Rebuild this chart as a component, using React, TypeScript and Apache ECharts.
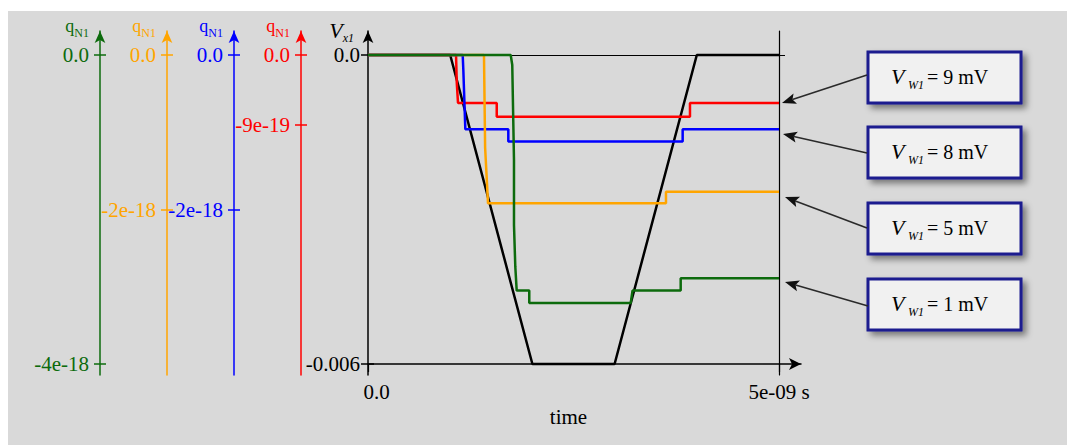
import { useEffect, useRef } from 'react';
import * as echarts from 'echarts';

const FONT = "'Liberation Serif', 'DejaVu Serif', 'Times New Roman', serif";

// ---- tick values / labels ----
const timeTicks = [0, 5e-9];
const timeTickLabels = ['0.0', '5e-09 s'];
const vTicks = [0, -0.006];
const vTickLabels = ['0.0', '-0.006'];
const redTicks = [0, -9e-19];
const redTickLabels = ['0.0', '-9e-19'];
const blueTicks = [0, -2e-18];
const blueTickLabels = ['0.0', '-2e-18'];
const orangeTicks = [0, -2e-18];
const orangeTickLabels = ['0.0', '-2e-18'];
const greenTicks = [0, -4e-18];
const greenTickLabels = ['0.0', '-4e-18'];

// ---- series data ----
const vx1Time = [0, 1.0e-9, 2.0e-9, 3.0e-9, 4.0e-9, 5.0e-9];
const vx1Values = [0, 0, -0.006, -0.006, 0, 0];

const q9Time = [0, 1.071e-9, 1.08e-9, 1.095e-9, 1.566e-9, 1.566e-9, 3.917e-9, 3.917e-9, 5.0e-9];
const q9Values = [0, 0, -3.6e-19, -6.2e-19, -6.2e-19, -8.0e-19, -8.0e-19, -6.2e-19, -6.2e-19];

const q8Time = [0, 1.152e-9, 1.16e-9, 1.184e-9, 1.707e-9, 1.707e-9, 3.828e-9, 3.828e-9, 5.0e-9];
const q8Values = [0, 0, -2.0e-19, -9.62e-19, -9.62e-19, -1.12e-18, -1.12e-18, -9.62e-19, -9.62e-19];

const q5Time = [0, 1.411e-9, 1.425e-9, 1.46e-9, 3.625e-9, 3.625e-9, 5.0e-9];
const q5Values = [0, 0, -1.2e-18, -1.92e-18, -1.92e-18, -1.77e-18, -1.77e-18];

const q1Time = [0, 1.736e-9, 1.755e-9, 1.776e-9, 1.776e-9, 1.792e-9, 1.809e-9, 1.962e-9, 1.962e-9, 3.196e-9, 3.218e-9, 3.804e-9, 3.804e-9, 5.0e-9];
const q1Values = [0, 0, -1.3e-19, -1.36e-18, -2.2e-18, -2.74e-18, -3.05e-18, -3.05e-18, -3.21e-18, -3.21e-18, -3.05e-18, -3.05e-18, -2.89e-18, -2.89e-18];

const legendValues = ['9 mV', '8 mV', '5 mV', '1 mV'];

const GREEN = '#0d6b0d';
const ORANGE = '#ffa500';
const BLUE = '#0000ff';
const RED = '#ff0000';

const zip = (t: number[], v: number[]) => t.map((x, i) => [x, v[i]]);
const pick = (ticks: number[], labels: string[]) => (val: number) => {
  let best = 0;
  let bd = Infinity;
  ticks.forEach((t, i) => {
    const d = Math.abs(t - val);
    if (d < bd) { bd = d; best = i; }
  });
  return labels[best];
};

// axis extents (axis lines extend beyond data range)
const V_MIN = -0.006 - (11 * 0.006) / 309;
const V_MAX = (24 * 0.006) / 309;
const Q_MIN = -4e-18 - (11 * 4e-18) / 309;
const Q_MAX = (24 * 4e-18) / 309;
const T_MAX = (5e-9 * 433) / 411;

function qAxis(color: string, offset: number, ticks: number[], labels: string[]) {
  return {
    type: 'value',
    position: 'left',
    offset,
    min: Q_MIN,
    max: Q_MAX,
    name: '{q|q}{s|N1}',
    nameLocation: 'end',
    nameGap: -8,
    nameTextStyle: {
      align: 'right',
      padding: [0, 11, 0, 0],
      rich: {
        q: { fontFamily: FONT, fontSize: 18, color },
        s: { fontFamily: FONT, fontSize: 12, color, padding: [14, 0, 0, 0] },
      },
    },
    axisLine: { show: true, onZero: false, lineStyle: { color, width: 1.5 }, symbol: ['none', 'arrow'], symbolSize: [8, 12] },
    axisTick: { show: true, customValues: ticks, length: 6, lineStyle: { color, width: 1.5 } },
    axisLabel: {
      show: true,
      customValues: ticks,
      formatter: pick(ticks, labels),
      color,
      fontFamily: FONT,
      fontSize: 21,
      margin: 11,
    },
    splitLine: { show: false },
  };
}

function innerTickAxis(color: string, offset: number, ticks: number[], min: number, max: number) {
  return {
    type: 'value',
    position: 'left',
    offset,
    min,
    max,
    axisLine: { show: false, onZero: false },
    axisTick: { show: true, inside: true, customValues: ticks, length: 6, lineStyle: { color, width: 1.5 } },
    axisLabel: { show: false },
    splitLine: { show: false },
  };
}

function arrow(x1: number, y1: number, x2: number, y2: number) {
  const dx = x2 - x1;
  const dy = y2 - y1;
  const L = Math.hypot(dx, dy);
  const ux = dx / L;
  const uy = dy / L;
  const hl = 14;
  const hw = 5.5;
  const bx = x2 - ux * hl;
  const by = y2 - uy * hl;
  const nx = -uy;
  const ny = ux;
  return [
    { type: 'line', shape: { x1, y1, x2: bx + ux * 3, y2: by + uy * 3 }, style: { stroke: '#2a2a2a', lineWidth: 1.6 } },
    {
      type: 'polygon',
      shape: { points: [[x2, y2], [bx + nx * hw, by + ny * hw], [bx + ux * 3, by + uy * 3], [bx - nx * hw, by - ny * hw]] },
      style: { fill: '#111' },
    },
  ];
}

function legendBox(top: number, label: string) {
  const left = 868;
  return {
    type: 'group',
    children: [
      {
        type: 'rect',
        shape: { x: left, y: top, width: 153, height: 51 },
        style: {
          fill: '#f1f1f1',
          stroke: '#1d1d8f',
          lineWidth: 3,
          shadowBlur: 6,
          shadowOffsetX: 4,
          shadowOffsetY: 4,
          shadowColor: 'rgba(0,0,0,0.45)',
        },
      },
      {
        type: 'text',
        x: left + 23,
        y: top + 24,
        style: { text: 'V', font: `italic 22px ${FONT}`, fill: '#000', verticalAlign: 'middle', align: 'left' },
      },
      {
        type: 'text',
        x: left + 40,
        y: top + 33,
        style: { text: 'W1', font: `italic 12px ${FONT}`, fill: '#000', verticalAlign: 'middle', align: 'left' },
      },
      {
        type: 'text',
        x: left + 59,
        y: top + 25,
        style: { text: `= ${label}`, font: `20px ${FONT}`, fill: '#000', verticalAlign: 'middle', align: 'left' },
      },
    ],
  };
}

export default function App() {
  const ref = useRef<HTMLDivElement>(null);

  useEffect(() => {
    if (!ref.current) return;
    const chart = echarts.init(ref.current, null, { renderer: 'svg' });

    const series: any[] = [
      {
        name: 'Vx1',
        type: 'line',
        yAxisIndex: 0,
        data: zip(vx1Time, vx1Values),
        showSymbol: false,
        lineStyle: { color: '#000', width: 2.5 },
        z: 3,
        markLine: {
          silent: true,
          symbol: ['none', 'none'],
          label: { show: false },
          lineStyle: { color: '#000', width: 1.2, type: 'solid' },
          data: [[{ coord: [0, 0] }, { coord: [5.073e-9, 0] }]],
        },
      },
      { name: 'q9', type: 'line', yAxisIndex: 1, data: zip(q9Time, q9Values), showSymbol: false, lineStyle: { color: RED, width: 2.5 }, z: 4 },
      { name: 'q8', type: 'line', yAxisIndex: 2, data: zip(q8Time, q8Values), showSymbol: false, lineStyle: { color: BLUE, width: 2.5 }, z: 4 },
      { name: 'q5', type: 'line', yAxisIndex: 3, data: zip(q5Time, q5Values), showSymbol: false, lineStyle: { color: ORANGE, width: 2.5 }, z: 4 },
      { name: 'q1', type: 'line', yAxisIndex: 4, data: zip(q1Time, q1Values), showSymbol: false, lineStyle: { color: GREEN, width: 2.5 }, z: 5 },
    ];

    const graphics: any[] = [];
    const tops = [52, 127, 203, 279];
    legendValues.forEach((lab, i) => graphics.push(legendBox(tops[i], lab)));
    graphics.push(...arrow(867, 75, 782, 103));
    graphics.push(...arrow(867, 153, 783, 134));
    graphics.push(...arrow(867, 228, 785, 197));
    graphics.push(...arrow(868, 306, 785, 282));

    chart.setOption({
      animation: false,
      backgroundColor: 'transparent',
      grid: { left: 368, top: 31, width: 433, bottom: 70, containLabel: false },
      xAxis: {
        type: 'value',
        min: 0,
        max: T_MAX,
        position: 'bottom',
        offset: -11,
        name: 'time',
        nameLocation: 'middle',
        nameGap: 40,
        nameTextStyle: { fontFamily: FONT, fontSize: 21, color: '#000', padding: [0, 32, 0, 0] },
        axisLine: { show: true, onZero: false, lineStyle: { color: '#000', width: 1.5 }, symbol: ['none', 'arrow'], symbolSize: [9, 12] },
        axisTick: { show: true, customValues: timeTicks, length: 8, lineStyle: { color: '#000', width: 1.2 } },
        axisLabel: {
          show: true,
          customValues: timeTicks,
          formatter: (v: number) => (v === 0 ? `{a|${timeTickLabels[0]}}` : `{b|${pick(timeTicks, timeTickLabels)(v)}}`),
          margin: 17,
          rich: {
            a: { fontFamily: FONT, fontSize: 21, color: '#000', padding: [0, 0, 0, 17] },
            b: { fontFamily: FONT, fontSize: 21, color: '#000' },
          },
        },
        splitLine: { show: false },
      },
      yAxis: [
        {
          type: 'value',
          position: 'left',
          offset: 0,
          min: V_MIN,
          max: V_MAX,
          name: '{v|V}{s|x1}',
          nameLocation: 'end',
          nameGap: -13,
          nameTextStyle: {
            align: 'right',
            padding: [0, 14, 0, 0],
            rich: {
              v: { fontFamily: FONT, fontSize: 22, fontStyle: 'italic', color: '#000' },
              s: { fontFamily: FONT, fontSize: 12, fontStyle: 'italic', color: '#000', padding: [16, 0, 0, 0] },
            },
          },
          axisLine: { show: true, onZero: false, lineStyle: { color: '#000', width: 1.5 }, symbol: ['none', 'arrow'], symbolSize: [8, 12] },
          axisTick: { show: true, customValues: vTicks, length: 7, lineStyle: { color: '#000', width: 1.5 } },
          axisLabel: {
            show: true,
            customValues: vTicks,
            formatter: pick(vTicks, vTickLabels),
            color: '#000',
            fontFamily: FONT,
            fontSize: 21,
            margin: 8,
          },
          splitLine: { show: false },
        },
        qAxis(RED, 67, redTicks, redTickLabels),
        qAxis(BLUE, 134, blueTicks, blueTickLabels),
        qAxis(ORANGE, 201, orangeTicks, orangeTickLabels),
        qAxis(GREEN, 268, greenTicks, greenTickLabels),
        innerTickAxis('#000', 0, vTicks, V_MIN, V_MAX),
        innerTickAxis(RED, 67, redTicks, Q_MIN, Q_MAX),
        innerTickAxis(BLUE, 134, blueTicks, Q_MIN, Q_MAX),
        innerTickAxis(ORANGE, 201, orangeTicks, Q_MIN, Q_MAX),
        innerTickAxis(GREEN, 268, greenTicks, Q_MIN, Q_MAX),
        {
          type: 'value',
          position: 'right',
          offset: -22,
          min: Q_MIN,
          max: Q_MAX,
          axisLine: { show: true, onZero: false, lineStyle: { color: '#000', width: 1.2 } },
          axisTick: { show: false },
          axisLabel: { show: false },
          splitLine: { show: false },
        },
      ],
      series,
      graphic: { elements: graphics },
    });

    return () => chart.dispose();
  }, []);

  return (
    <div style={{ position: 'fixed', left: 0, top: 0, width: 1067, height: 445, background: '#fff' }}>
      <div style={{ position: 'absolute', left: 8, top: 11, right: 0, bottom: 0, background: '#d9d9d9' }} />
      <div ref={ref} style={{ position: 'absolute', left: 0, top: 0, width: 1067, height: 445 }} />
    </div>
  );
}
